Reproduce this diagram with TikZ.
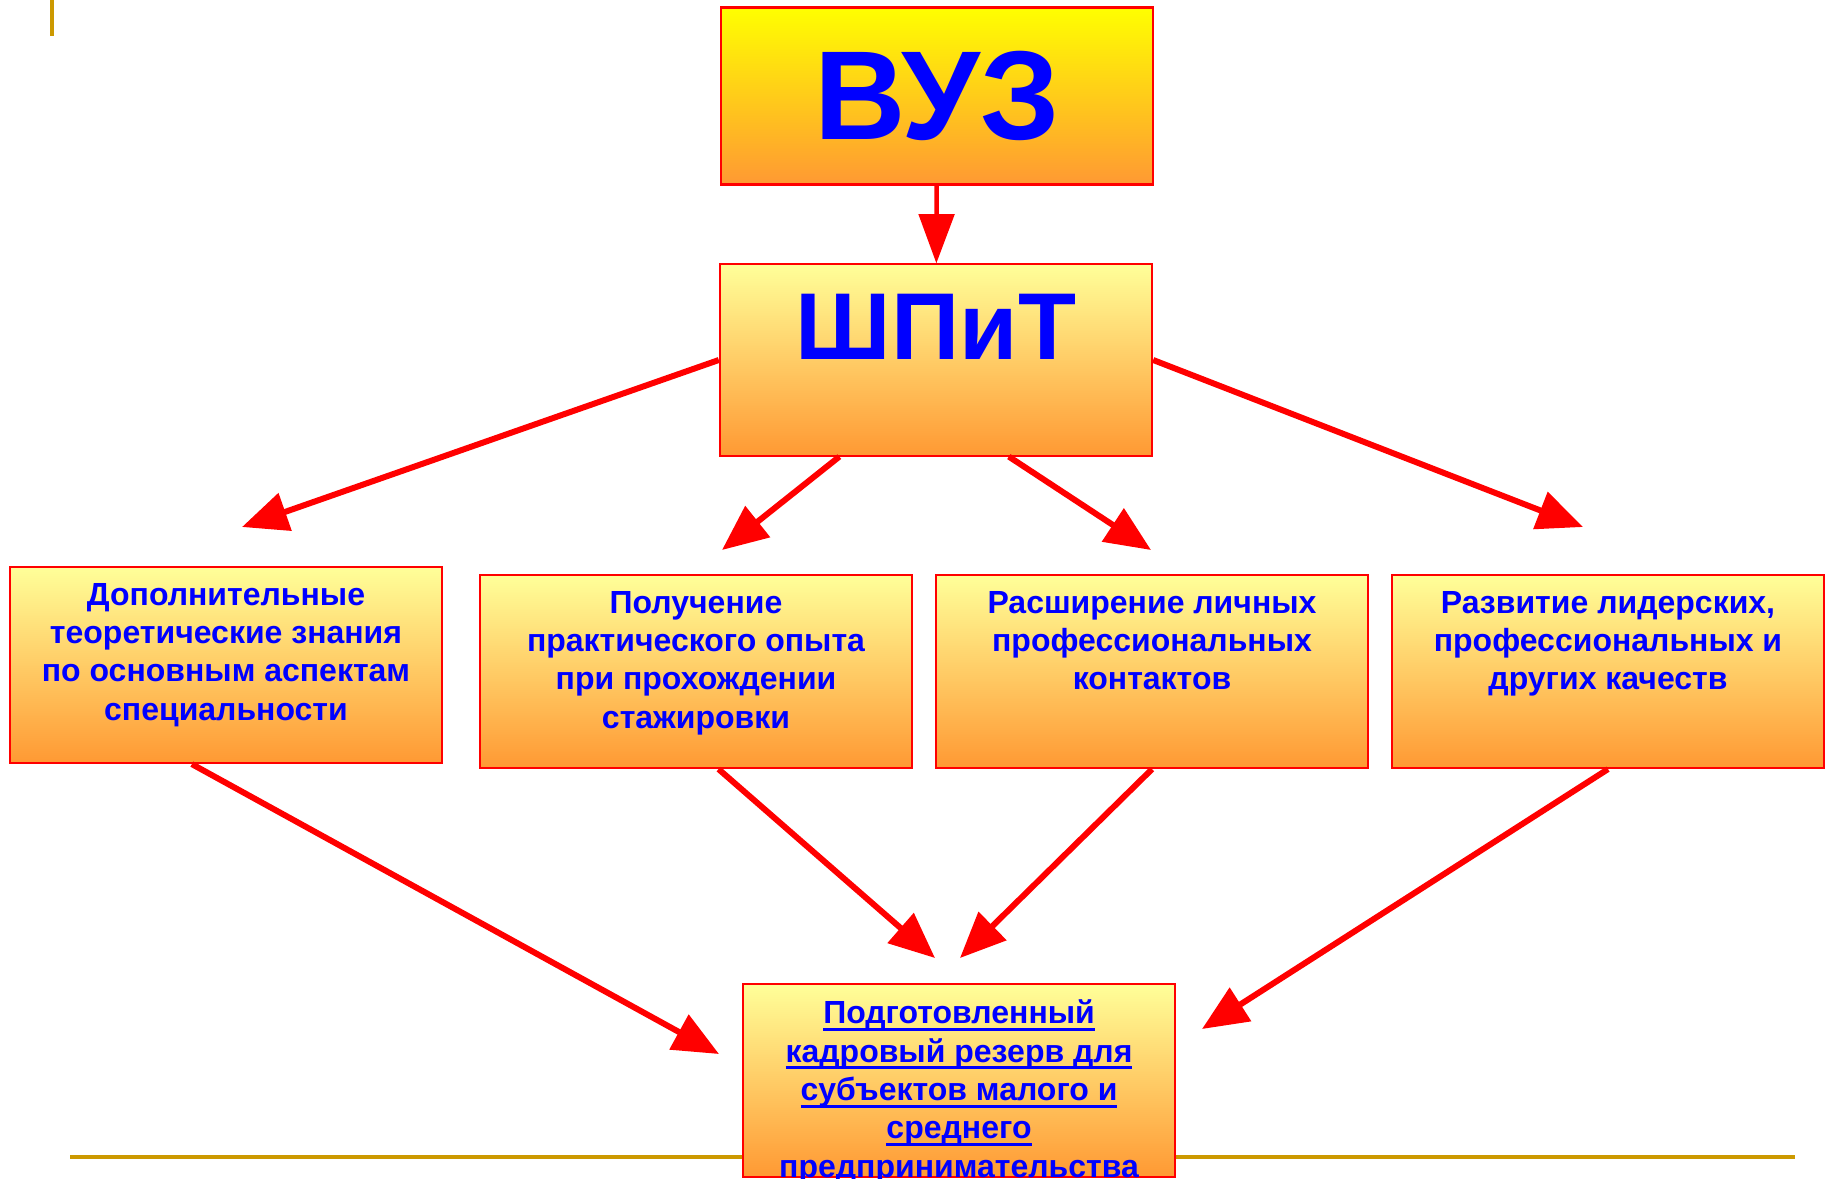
\documentclass[tikz,border=0pt]{standalone}
\usepackage{fontspec}
\setmainfont{Liberation Sans}
\usetikzlibrary{positioning, arrows.meta, calc}

\definecolor{vuztop}{HTML}{FFFF00}
\definecolor{boxtop}{HTML}{FFFF99}
\definecolor{boxbottom}{HTML}{FF9933}
\definecolor{textblue}{HTML}{0000FF}
\definecolor{arrowred}{HTML}{FF0000}
\definecolor{rulegold}{HTML}{CC9900}

\newcommand{\undertext}[1]{\setbox0\hbox{#1}\rlap{\rule[-2pt]{\wd0}{0.8pt}}\box0}

\tikzset{
	box/.style={draw=arrowred, line width=0.6pt, minimum width=4.32cm, top color=boxtop, bottom color=boxbottom, inner sep=0pt},
	txt/.style={text=textblue, font=\bfseries\fontsize{9.1}{10.9}\selectfont, align=center, inner sep=0pt},
	arr/.style={draw=arrowred, line width=1.7pt, -{Triangle[length=13pt,width=11pt]}},
	rule/.style={draw=rulegold, line width=1pt}
}

\begin{document}
\begin{tikzpicture}[x=0.01cm, y=-0.01cm]
		\useasboundingbox (0,0) rectangle (1830,1179);
		\draw[rule] (52,0) -- (52,36);
		\draw[rule] (70,1157) -- (1795,1157);

		\node[box, top color=vuztop, minimum height=1.77cm, text=textblue, font=\bfseries\fontsize{36}{40}\selectfont] (vuz) at (937,96) {ВУЗ};
		\node[box, minimum height=1.91cm] (shpit) at (936,360) {};
		\node[txt, font=\bfseries\fontsize{27}{31}\selectfont, below=8.5pt of shpit.north] (shpittxt) {ШПиТ};

		\node[box, minimum height=1.96cm] (b1) at (226,665) {};
		\node[box, minimum height=1.93cm] (b2) at (696,671.5) {};
		\node[box, minimum height=1.93cm] (b3) at (1152,671.5) {};
		\node[box, minimum height=1.93cm] (b4) at (1608,671.5) {};
		\node[box, minimum height=1.93cm] (res) at (959,1080.5) {};

		\node[txt, below=4.7pt of b1.north] (b1txt) {Дополнительные\\теоретические знания\\по основным аспектам\\специальности};
		\node[txt, below=4.7pt of b2.north] (b2txt) {Получение\\практического опыта\\при прохождении\\стажировки};
		\node[txt, below=4.7pt of b3.north] (b3txt) {Расширение личных\\профессиональных\\контактов};
		\node[txt, below=4.7pt of b4.north] (b4txt) {Развитие лидерских,\\профессиональных и\\других качеств};
		\node[txt, below=4.7pt of res.north] (restxt) {\undertext{Подготовленный}\\\undertext{кадровый резерв для}\\\undertext{субъектов малого и}\\\undertext{среднего}\\\undertext{предпринимательства}};

		\coordinate (t1) at (242,527);
		\coordinate (t2) at (722,550);
		\coordinate (t3) at (1151,550);
		\coordinate (t4) at (1583,527);
		\coordinate (t5) at (719,1054);
		\coordinate (t6) at (935,958);
		\coordinate (t7) at (960,958);
		\coordinate (t8) at (1202,1029);

		\draw[arr, line width=1.3pt, -{Triangle[length=14pt,width=10pt]}] (vuz) -- (shpit);
		\draw[arr] (shpit.west) -- (t1);
		\draw[arr] (shpit.225) -- (t2);
		\draw[arr] (shpit.307) -- (t3);
		\draw[arr] (shpit.east) -- (t4);
		\draw[arr] (b1.251) -- (t5);
		\draw[arr] (b2.283) -- (t6);
		\draw[arr] (b3.south) -- (t7);
		\draw[arr] (b4.south) -- (t8);
	\end{tikzpicture}
\end{document}
